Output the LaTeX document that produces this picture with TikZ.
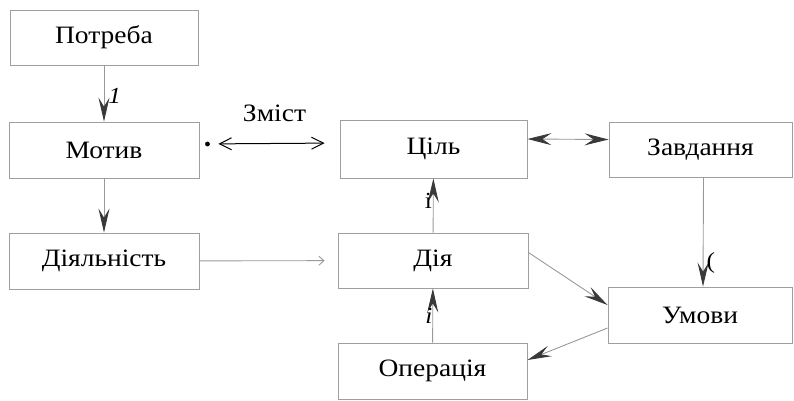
\documentclass[tikz,border=0pt]{standalone}
\usepackage{fontspec}
\setmainfont{Liberation Serif}[FakeStretch=1.1]
\usetikzlibrary{arrows.meta}

\begin{document}
\begin{tikzpicture}[x=1pt,y=-1pt,
	block/.style={draw=gray!75, line width=0.9pt, rectangle,
		inner sep=0pt, font=\fontsize{25}{27}\selectfont},
	arr/.style={draw=gray!80, line width=0.9pt,
		-{Stealth[length=24pt,width=11pt,inset=9pt,color=gray!45!black,fill=gray!45!black]}},
	darr/.style={arr, {Stealth[length=24pt,width=12pt,inset=9pt,color=gray!45!black,fill=gray!45!black]}-{Stealth[length=24pt,width=12pt,inset=9pt,color=gray!45!black,fill=gray!45!black]}},
	barb/.style={line width=0.9pt, -{Straight Barb[length=5pt,width=9pt]}},
	lbl/.style={font=\fontsize{23}{25}\selectfont, inner sep=2pt}]

	\useasboundingbox (0,0) rectangle (794,400);

	% left column
	\node[block, minimum width=188pt, minimum height=55pt] (potreba) at (104,37.5) {Потреба};
	\node[block, minimum width=190pt, minimum height=56pt] (motiv) at (104,150) {Мотив};
	\node[block, minimum width=190pt, minimum height=56pt] (diyal) at (104,261) {Діяльність};

	% middle column
	\node[block, minimum width=187pt, minimum height=58pt] (tsil) at (433.5,149) {Ціль};
	\node[block, minimum width=190pt, minimum height=55pt] (diya) at (433,260.5) {Дія};
	\node[block, minimum width=189pt, minimum height=56pt] (operatsiya) at (432.5,371) {Операція};

	% right column
	\node[block, minimum width=183pt, minimum height=55pt] (zavdannya) at (700.5,149.5) {Завдання};
	\node[block, minimum width=184pt, minimum height=56pt] (umovy) at (700,315) {Умови};

	% connectors
	\draw[arr] (potreba) -- (motiv) node[lbl, right, pos=0.55, xshift=2pt] {\textit{1}};
	\draw[arr] (motiv) -- (diyal);

	\draw[darr] ([yshift=10pt]tsil.east) -- ([yshift=10pt]zavdannya.west);
	\draw[arr] ([xshift=3pt]zavdannya.south) -- ([xshift=3pt]umovy.north)
		node[lbl, right, pos=0.78, xshift=1pt] {(};

	\draw[arr] (diya) -- (tsil) node[lbl, left, pos=0.58, xshift=1pt] {i};
	\draw[arr] (operatsiya) -- (diya) node[lbl, left, pos=0.5, xshift=2pt] {\textit{i}};

	\draw[arr] ([yshift=8pt]diya.east) -- ([yshift=10pt]umovy.west);
	\draw[arr] ([yshift=-13pt]umovy.west) -- ([yshift=11pt]operatsiya.east);

	\draw[draw=gray!80, barb, shorten >=13pt] (diyal) -- (diya);

	% content link
	\fill ([xshift=8pt,yshift=6pt]motiv.east) circle (2.4pt);
	\draw[line width=1pt, {Straight Barb[length=12pt,width=12pt]}-{Straight Barb[length=12pt,width=12pt]},
		shorten <=19pt, shorten >=15pt]
		([yshift=6pt]motiv.east) -- ([yshift=6pt]tsil.west)
		node[midway, above=18pt, xshift=5pt, font=\fontsize{25}{27}\selectfont] {Зміст};

\end{tikzpicture}
\end{document}
